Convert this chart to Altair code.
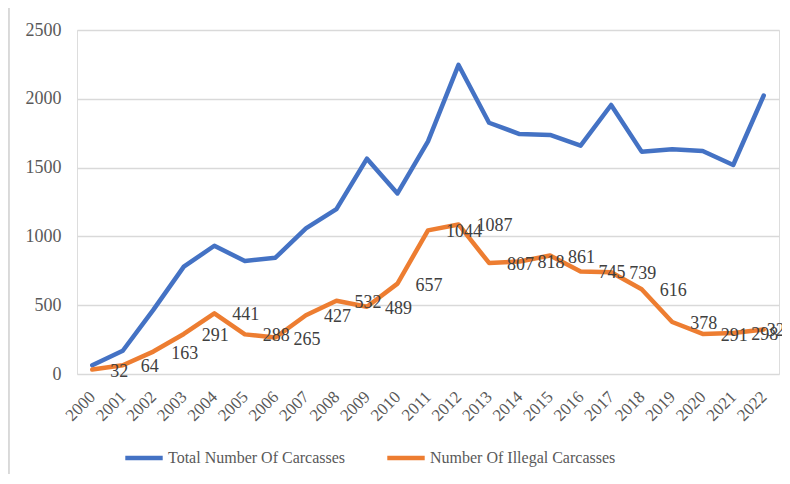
import altair as alt
import pandas as pd

years = list(range(2000, 2023))
total = [63, 169, 466, 780, 932, 821, 845, 1058, 1198, 1565, 1312, 1690,
         2246, 1826, 1744, 1737, 1659, 1955, 1616, 1633, 1621, 1519, 2024]
illegal = [32, 64, 163, 291, 441, 288, 265, 427, 532, 489, 657, 1044,
           1087, 807, 818, 861, 745, 739, 616, 378, 291, 298, 324]
series_names = ["Total Number Of Carcasses", "Number Of Illegal Carcasses"]
colors = ["#4472C4", "#ED7D31"]

rows = []
for y, t, i in zip(years, total, illegal):
    rows.append({"year": str(y), "value": t, "series": series_names[0]})
    rows.append({"year": str(y), "value": i, "series": series_names[1]})
df = pd.DataFrame(rows)
df_ill = pd.DataFrame({"year": [str(y) for y in years], "value": illegal})
df_ill_main = df_ill.iloc[:-1]
df_ill_last = df_ill.iloc[-1:]

FONT = "'Liberation Serif', 'Times New Roman', serif"
TXT = "#595959"

x_scale = alt.Scale(type="point", padding=0.5)
x_enc = alt.X("year:O", scale=x_scale,
              axis=alt.Axis(labelAngle=-45, labelAlign="right",
                            labelBaseline="middle", labelPadding=20, labelFontSize=17,
                            labelFont=FONT, labelColor=TXT, ticks=False, domain=False,
                            grid=False, title=None, labelOverlap=False))
y_enc = alt.Y("value:Q", scale=alt.Scale(domain=[0, 2500], nice=False),
              axis=alt.Axis(values=[0, 500, 1000, 1500, 2000, 2500], format="d",
                            labelFontSize=18, labelFont=FONT, labelColor=TXT,
                            ticks=False, domain=False,
                            gridColor="#D9D9D9", gridWidth=1.5, labelPadding=16, title=None))

lines = alt.Chart(df).mark_line(strokeWidth=4.5, strokeJoin="round", strokeCap="round").encode(
    x=x_enc,
    y=y_enc,
    color=alt.Color("series:N",
                    scale=alt.Scale(domain=series_names, range=colors),
                    sort=series_names,
                    legend=alt.Legend(title=None, orient="none", direction="horizontal",
                                      legendX=46, legendY=407, symbolType="stroke",
                                      symbolSize=1400, symbolStrokeWidth=4.5,
                                      labelFontSize=16, labelFont=FONT, labelColor=TXT,
                                      columnPadding=32, labelOffset=3, labelLimit=400)),
)

label_style = dict(align="left", baseline="middle", dy=2, fontSize=18, font=FONT,
                   color="#404040", clip=False)
labels = alt.Chart(df_ill_main).mark_text(dx=18, **label_style).encode(
    x=alt.X("year:O", scale=x_scale),
    y=alt.Y("value:Q"),
    text=alt.Text("value:Q"),
)
label_last = alt.Chart(df_ill_last).mark_text(dx=3, **label_style).encode(
    x=alt.X("year:O", scale=x_scale),
    y=alt.Y("value:Q"),
    text=alt.Text("value:Q"),
)

border_top = alt.Chart(df_ill).mark_rule(color="#D9D9D9", strokeWidth=1.5).encode(
    x=alt.value(-69), x2=alt.value(705), y=alt.value(-23)
)
border_left = alt.Chart(df_ill).mark_rule(color="#D9D9D9", strokeWidth=1.5).encode(
    x=alt.value(-68.5), y=alt.value(-23), y2=alt.value(446)
)

chart = alt.layer(border_top, border_left, lines, labels, label_last).properties(
    width=702, height=344,
    autosize=alt.AutoSizeParams(type="none"),
    padding={"left": 69, "top": 22, "right": 3, "bottom": 100},
).configure_view(stroke=None).configure(background="white")

chart.save("out.html", embed_options={"renderer": "svg", "actions": False})
